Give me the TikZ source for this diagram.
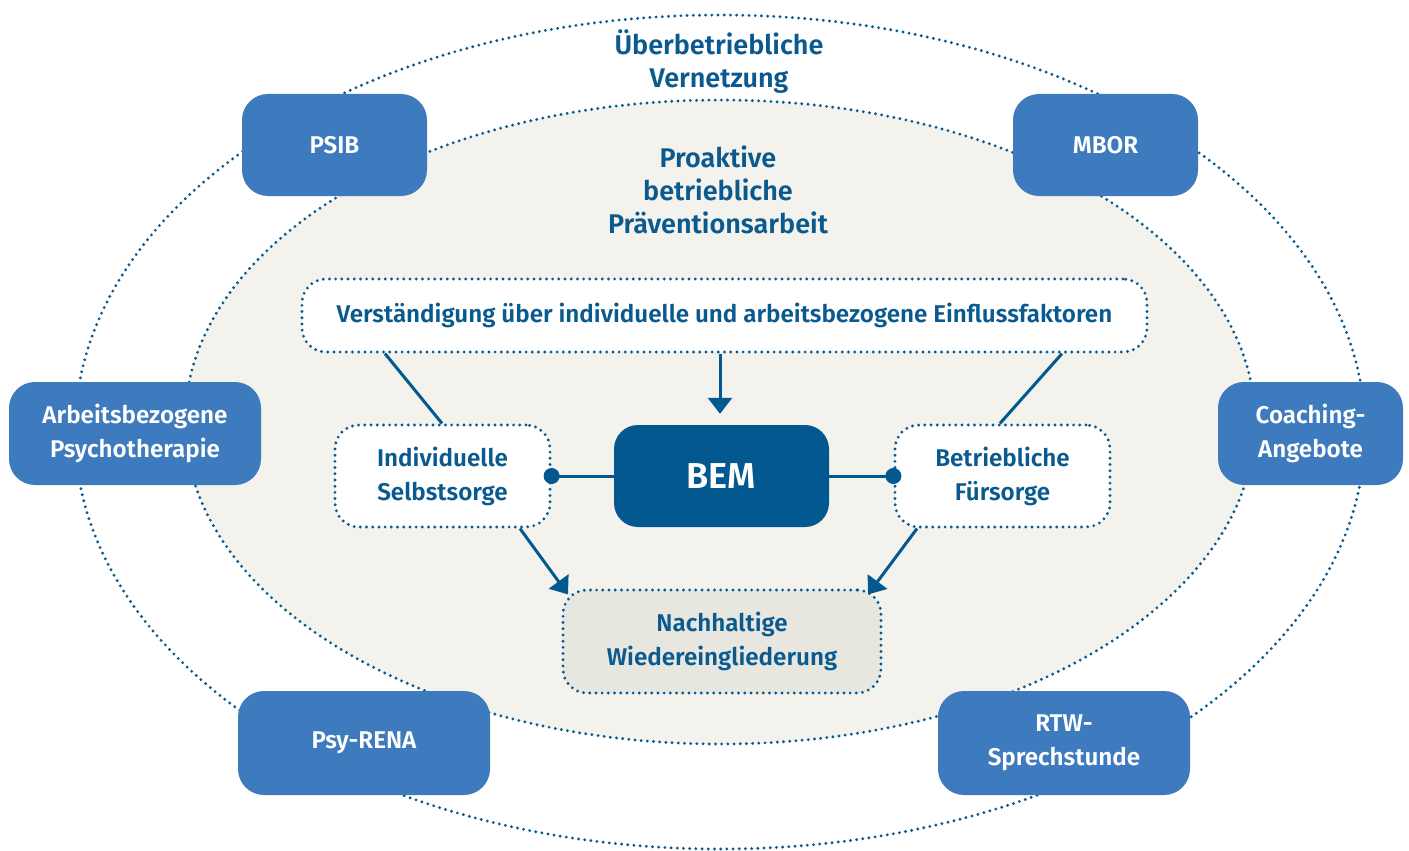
\documentclass[tikz,border=0pt]{standalone}
\usepackage{fontspec}
\setmainfont{Fira Sans}[BoldFont={Fira Sans SemiBold}]
\usetikzlibrary{arrows.meta}
\definecolor{txtblue}{HTML}{0B5A8F}
\definecolor{boxblue}{HTML}{3E7BBE}
\definecolor{bemblue}{HTML}{03598F}
\definecolor{beige}{HTML}{F3F2EC}
\definecolor{greyfill}{HTML}{E7E7E0}
\tikzset{
  dotline/.style={draw=txtblue, line width=3.2pt, line cap=round, dash pattern=on 0pt off 6.2pt},
  outerbox/.style={fill=boxblue, rounded corners=26pt, text=white, font=\fontsize{24.2}{34}\selectfont\bfseries, align=center, inner sep=0pt},
  innerbox/.style={fill=white, dotline, rounded corners=24pt, text=txtblue, font=\fontsize{24.2}{34}\selectfont\bfseries, align=center, inner sep=0pt},
  title/.style={text=txtblue, font=\fontsize{27}{33}\selectfont\bfseries, align=center},
  conn/.style={draw=bemblue, line width=3pt},
  arr/.style={conn, -{Triangle[length=16pt,width=24pt]}},
  dotend/.style={circle, fill=bemblue, minimum size=16pt, inner sep=0pt}
}
\begin{document}
\begin{tikzpicture}[x=1pt,y=-1pt]
\useasboundingbox (0,0) rectangle (1409,851);
\fill[white] (0,0) rectangle (1409,851);
% outer ellipse
\draw[dotline] (720,432) ellipse [x radius=645, y radius=417];
% inner ellipse
\fill[beige] (720,422) ellipse [x radius=535, y radius=322];
\draw[dotline] (720,422) ellipse [x radius=535, y radius=322];
% titles
\node[title] (t1) at (719,62) {Überbetriebliche\\Vernetzung};
\node[title] (t2) at (718,190) {Proaktive\\betriebliche\\Präventionsarbeit};
% outer boxes
\node[outerbox, minimum width=185pt, minimum height=102pt] (psib) at (334.5,145) {PSIB};
\node[outerbox, minimum width=185pt, minimum height=102pt] (mbor) at (1105.5,145) {MBOR};
\node[outerbox, minimum width=252pt, minimum height=103pt] (apt) at (135,433.5) {Arbeitsbezogene\\Psychotherapie};
\node[outerbox, minimum width=185pt, minimum height=103pt] (coach) at (1310.5,433.5) {Coaching-\\Angebote};
\node[outerbox, minimum width=252pt, minimum height=104pt] (psy) at (364,743) {Psy-RENA};
\node[outerbox, minimum width=252pt, minimum height=104pt] (rtw) at (1064,743) {RTW-\\Sprechstunde};
% inner boxes
\node[innerbox, minimum width=845pt, minimum height=73pt] (vers) at (724.5,315.5) {Verständigung über individuelle und arbeitsbezogene Einflussfaktoren};
\node[fill=bemblue, rounded corners=24pt, text=white, font=\fontsize{36}{40}\selectfont\bfseries, minimum width=215pt, minimum height=102pt, inner sep=0pt] (bem) at (721.5,476) {BEM};
\node[innerbox, minimum width=215pt, minimum height=102pt] (ind) at (442.5,476) {Individuelle\\Selbstsorge};
\node[innerbox, minimum width=215pt, minimum height=102pt] (bet) at (1002.5,476) {Betriebliche\\Fürsorge};
\node[innerbox, fill=greyfill, minimum width=318pt, minimum height=103pt] (nach) at (722,641.5) {Nachhaltige\\Wiedereingliederung};
% connectors
\coordinate (vl) at ([xshift=-339.5pt]vers.south);
\coordinate (vr) at ([xshift=337.5pt]vers.south);
\draw[conn] (vl) -- ([xshift=-0.5pt]ind.north);
\draw[conn] (vr) -- ([xshift=-2.5pt]bet.north);
\coordinate (bt) at ([yshift=11pt]bem.north);
\draw[arr] ([xshift=-4.5pt]vers.south) -- ([xshift=-1.5pt]bt);
\draw[conn] (bem.west) -- (ind.east) node[dotend] (dl) {};
\draw[conn] (bem.east) -- (bet.west) node[dotend] (dr) {};
\coordinate (ia) at ([xshift=77.5pt]ind.south);
\coordinate (na) at ([xshift=-154pt,yshift=-6pt]nach.north);
\draw[arr] (ia) -- (na);
\coordinate (ba) at ([xshift=-85.5pt]bet.south);
\coordinate (nb) at ([xshift=146pt,yshift=-6pt]nach.north);
\draw[arr] (ba) -- (nb);
\end{tikzpicture}
\end{document}
